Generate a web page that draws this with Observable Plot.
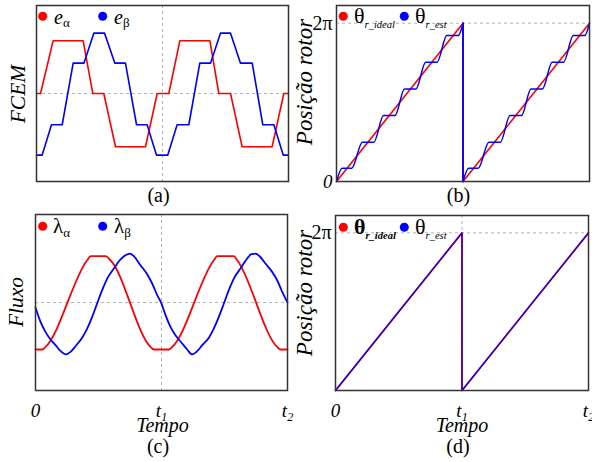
<!DOCTYPE html>
<html><head><meta charset="utf-8">
<script src="https://cdn.jsdelivr.net/npm/d3@7"></script>
<script src="https://cdn.jsdelivr.net/npm/@observablehq/plot@0.6"></script>
<style>
body{margin:0;background:#fff;font-family:"Liberation Serif",serif}
#wrap{position:relative;width:592px;height:462px;overflow:hidden;background:#fff}
#wrap text, #wrap tspan{font-family:"Liberation Serif",serif}
</style></head><body><div id="wrap"></div>
<script>
const FONT = "Liberation Serif";
const RED = "#ff0000", BLUE = "#0000ff";

// ---- panel (a): FCEM (time in units of t1) ----
const tEAlpha = [0, 0.032, 0.132, 0.370, 0.447, 0.534, 0.627, 0.865, 0.958, 1.050, 1.138, 1.376, 1.447, 1.540, 1.632, 1.870, 1.963, 2.0];
const eAlpha  = [0, 0, 0.60, 0.60, 0, 0, -0.605, -0.605, 0, 0, 0.60, 0.60, 0, 0, -0.605, -0.605, 0, 0];
const tEBeta = [0, 0.045, 0.119, 0.204, 0.291, 0.376, 0.455, 0.540, 0.622, 0.706, 0.794, 0.878, 0.952, 1.042, 1.116, 1.209, 1.296, 1.381, 1.460, 1.540, 1.619, 1.712, 1.796, 1.884, 1.958, 2.0];
const eBeta  = [-0.70, -0.70, -0.355, -0.355, 0.345, 0.345, 0.686, 0.686, 0.345, 0.345, -0.355, -0.355, -0.70, -0.70, -0.355, -0.355, 0.345, 0.345, 0.686, 0.686, 0.345, 0.345, -0.355, -0.355, -0.70, -0.70];

// ---- panel (b): rotor position, units of 2π ----
const tThetaIdeal = [0, 1, 1, 2];
const thetaIdeal  = [0, 1, 0, 1];
const tThetaEst = [0, 0.045, 0.12, 0.205, 0.295, 0.372, 0.462, 0.538, 0.628, 0.705, 0.795, 0.872, 0.962, 1.0,
                   1.0, 1.045, 1.12, 1.205, 1.295, 1.372, 1.462, 1.538, 1.628, 1.705, 1.795, 1.872, 1.962, 2.0];
const thetaEst  = [0, 0.084, 0.084, 0.248, 0.248, 0.417, 0.417, 0.585, 0.585, 0.754, 0.754, 0.922, 0.922, 1.0,
                   0, 0.084, 0.084, 0.248, 0.248, 0.417, 0.417, 0.585, 0.585, 0.754, 0.754, 0.922, 0.922, 1.0];

// ---- panel (c): flux ----
const tLamAlpha = [0, 0.053, 0.079, 0.410, 0.437, 0.556, 0.595, 0.913, 0.939, 1.058, 1.085, 1.415, 1.442, 1.574, 1.601, 1.918, 1.944, 2.0];
const lamAlpha  = [-0.534, -0.534, -0.505, 0.48, 0.526, 0.526, 0.48, -0.505, -0.534, -0.534, -0.505, 0.48, 0.526, 0.526, 0.48, -0.505, -0.534, -0.534];
const tLamBeta = [0, 0.040, 0.079, 0.119, 0.159, 0.198, 0.238, 0.278, 0.317, 0.370, 0.410, 0.450, 0.489, 0.529, 0.569, 0.622, 0.675, 0.714, 0.749, 0.780, 0.833, 0.886, 0.926, 0.966, 1.000,
                  1.032, 1.071, 1.111, 1.164, 1.204, 1.243, 1.283, 1.323, 1.376, 1.415, 1.455, 1.495, 1.534, 1.574, 1.627, 1.680, 1.714, 1.746, 1.778, 1.825, 1.878, 1.918, 1.958, 2.0];
const lamBeta  = [-0.057, -0.22, -0.334, -0.42, -0.485, -0.55, -0.59, -0.561, -0.497, -0.40, -0.296, -0.163, -0.012, 0.14, 0.272, 0.386, 0.489, 0.537, 0.556, 0.526, 0.424, 0.322, 0.216, 0.083, -0.012,
                  -0.144, -0.277, -0.372, -0.466, -0.534, -0.59, -0.553, -0.485, -0.40, -0.296, -0.163, -0.012, 0.14, 0.272, 0.386, 0.5, 0.549, 0.556, 0.526, 0.443, 0.348, 0.253, 0.12, 0];

// ---- panel (d): rotor position with corrected estimator ----
const tThetaIdealD = [0, 1, 1, 2];
const thetaIdealD  = [0, 1, 0, 1];
const tThetaEstD = [0, 1, 1, 2];
const thetaEstD  = [0, 1, 0, 1];

// ---- ticks / labels ----
const xTicks = [0, 1, 2];
const xTickLabels = ["0", "t1", "t2"];
const yTicks = [0, 1];
const yTickLabels = ["0", "2π"];
const gridT = [1];
const gridZero = [0];

const rows = (ts, vs) => ts.map((t, i) => ({t, v: vs[i]}));

const wrap = document.getElementById("wrap");
const grid = {stroke: "#b4b4b4", strokeWidth: 1, strokeDasharray: "3,3"};
const frame = Plot.frame({stroke: "#333", strokeWidth: 1.5});

function panel(g, marks) {
  const svg = Plot.plot({
    width: g.w, height: g.h,
    marginLeft: g.l, marginRight: g.r, marginTop: g.t, marginBottom: g.b,
    x: {domain: [0, 2], axis: null},
    y: {domain: g.y, axis: null},
    style: {fontFamily: FONT, color: "black", background: "white"},
    marks
  });
  svg.style.position = "absolute";
  svg.style.left = g.left + "px";
  svg.style.top = g.top + "px";
  d3.select(svg).selectAll("text").each(function() {
    const m = /^t(\d)$/.exec(this.textContent);
    if (m) {
      const s = d3.select(this);
      s.text("");
      s.append("tspan").text("t");
      s.append("tspan").attr("font-size", 12).attr("dy", "0.3em").text(m[1]);
    }
  });
  wrap.append(svg);
  return svg;
}

const xAxis = () => Plot.axisX(xTicks, {
  tickFormat: d => xTickLabels[xTicks.indexOf(d)], tickSize: 0, tickPadding: 13,
  fontSize: 19, fontStyle: "italic", fontFamily: FONT, label: null
});
const yAxisTick = (i, italic) => Plot.axisY([yTicks[i]], {
  tickFormat: () => yTickLabels[i], tickSize: 0, tickPadding: 4,
  fontSize: italic ? 19 : 20, fontStyle: italic ? "italic" : "normal", fontFamily: FONT, label: null
});

// (a)
panel({left: 0, top: 0, w: 296, h: 200, l: 36, r: 8, t: 5, b: 19, y: [-1, 1]}, [
  Plot.ruleX(gridT, grid), Plot.ruleY(gridZero, grid),
  Plot.line(rows(tEAlpha, eAlpha), {x: "t", y: "v", stroke: RED, strokeWidth: 1.6}),
  Plot.line(rows(tEBeta, eBeta), {x: "t", y: "v", stroke: BLUE, strokeWidth: 1.6}),
  frame
]);

// (b)
const est = rows(tThetaEst, thetaEst);
const jump = est.findIndex((d, i) => i > 0 && d.t === est[i - 1].t);
panel({left: 296, top: 0, w: 296, h: 200, l: 40, r: 3, t: 5, b: 19, y: [0, 1.112]}, [
  Plot.ruleY([yTicks[1]], grid),
  Plot.line(rows(tThetaIdeal, thetaIdeal), {x: "t", y: "v", stroke: RED, strokeWidth: 1.6}),
  Plot.line(est.slice(0, jump), {x: "t", y: "v", stroke: BLUE, strokeWidth: 1.5, curve: "monotone-x"}),
  Plot.line(est.slice(jump - 1, jump + 1), {x: "t", y: "v", stroke: BLUE, strokeWidth: 1.8}),
  Plot.line(est.slice(jump), {x: "t", y: "v", stroke: BLUE, strokeWidth: 1.5, curve: "monotone-x"}),
  frame,
  yAxisTick(0, true), yAxisTick(1, false)
]);

// (c)
panel({left: 0, top: 200, w: 296, h: 262, l: 35, r: 9, t: 14, b: 72, y: [-1, 1]}, [
  Plot.ruleX(gridT, grid), Plot.ruleY(gridZero, grid),
  Plot.line(rows(tLamAlpha, lamAlpha), {x: "t", y: "v", stroke: RED, strokeWidth: 1.8, curve: "monotone-x"}),
  Plot.line(rows(tLamBeta, lamBeta), {x: "t", y: "v", stroke: BLUE, strokeWidth: 1.8, curve: "monotone-x"}),
  frame,
  xAxis()
]);

// (d)
panel({left: 296, top: 200, w: 296, h: 262, l: 39, r: 4, t: 15, b: 72, y: [0, 1.11]}, [
  Plot.ruleX(gridT, grid), Plot.ruleY([yTicks[1]], grid),
  Plot.line(rows(tThetaIdealD, thetaIdealD), {x: "t", y: "v", stroke: RED, strokeWidth: 1.8}),
  Plot.line(rows(tThetaEstD, thetaEstD), {x: "t", y: "v", stroke: BLUE, strokeWidth: 1.2}),
  frame,
  xAxis(), yAxisTick(1, false)
]);

// ---- text overlay: axis titles, panel letters, legends ----
const ov = d3.create("svg").attr("width", 592).attr("height", 462)
  .style("position", "absolute").style("left", "0px").style("top", "0px")
  .style("font-family", FONT).attr("fill", "black");

function label(x, y, s, size, style, rot) {
  return ov.append("text").attr("transform", `translate(${x},${y}) rotate(${rot || 0})`)
    .attr("text-anchor", "middle").attr("font-size", size).attr("font-style", style || "normal").text(s);
}
label(25, 94, "FCEM", 21.5, "italic", -90);
label(23, 302, "Fluxo", 21.5, "italic", -90);
label(312, 82, "Posição rotor", 23, "italic", -90);
label(312, 293, "Posição rotor", 23, "italic", -90);
label(162.5, 432, "Tempo", 20, "italic");
label(462, 432, "Tempo", 20, "italic");
const panelLetters = ["(a)", "(b)", "(c)", "(d)"];
label(158.5, 202, panelLetters[0], 20);
label(458.5, 202, panelLetters[1], 20);
label(158, 453, panelLetters[2], 20);
label(458, 453, panelLetters[3], 20);

function legendItem(cx, cy, color, tx, ty, main, sub, o) {
  ov.append("circle").attr("cx", cx).attr("cy", cy).attr("r", 4.5).attr("fill", color);
  const t = ov.append("text").attr("x", tx).attr("y", ty).attr("font-size", o.size)
    .attr("font-style", o.mainStyle || "normal").attr("font-weight", o.mainWeight || "normal");
  t.append("tspan").text(main);
  t.append("tspan").attr("font-size", o.subSize).attr("dy", o.dy)
    .attr("font-style", o.subStyle || "normal").attr("font-weight", o.subWeight || "normal").text(sub);
}
const legA = [["e", "α", RED], ["e", "β", BLUE]];
const legB = [["θ", "r_ideal", RED], ["θ", "r_est", BLUE]];
const legC = [["λ", "α", RED], ["λ", "β", BLUE]];
legendItem(42.7, 16.3, legA[0][2], 54, 24, legA[0][0], legA[0][1], {size: 20, mainStyle: "italic", subSize: 13, dy: 3});
legendItem(102.7, 16.3, legA[1][2], 114, 24, legA[1][0], legA[1][1], {size: 20, mainStyle: "italic", subSize: 13, dy: 3});
legendItem(343.3, 16.3, legB[0][2], 354, 23.3, legB[0][0], legB[0][1], {size: 22, subSize: 10.5, subStyle: "italic", dy: 5});
legendItem(404.3, 16.3, legB[1][2], 415, 23.3, legB[1][0], legB[1][1], {size: 22, subSize: 10.5, subStyle: "italic", dy: 5});
legendItem(42.7, 226.3, legC[0][2], 53, 233, legC[0][0], legC[0][1], {size: 21, subSize: 13, dy: 4});
legendItem(102.7, 226.3, legC[1][2], 114, 233, legC[1][0], legC[1][1], {size: 21, subSize: 13, dy: 4});
legendItem(343.3, 227.3, legB[0][2], 354, 234.3, legB[0][0], legB[0][1], {size: 22, mainWeight: "bold", subSize: 10.5, subStyle: "italic", subWeight: "bold", dy: 5});
legendItem(404.3, 227.3, legB[1][2], 415, 234.3, legB[1][0], legB[1][1], {size: 22, subSize: 10.5, subStyle: "italic", dy: 5});

wrap.append(ov.node());
</script>
</body></html>
